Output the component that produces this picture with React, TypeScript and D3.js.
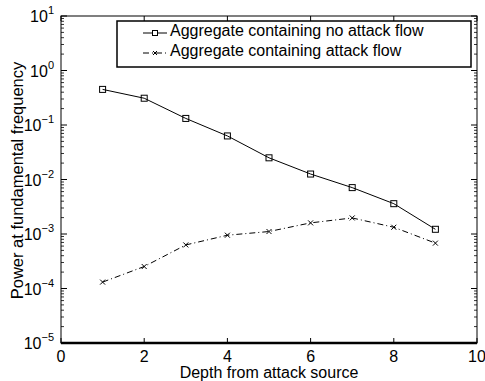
import React, { useRef, useEffect } from 'react';
import * as d3 from 'd3';

const depths = [1, 2, 3, 4, 5, 6, 7, 8, 9];
const noAttack = [0.45, 0.31, 0.132, 0.063, 0.025, 0.0126, 0.0071, 0.0036, 0.00122];
const withAttack = [0.000131, 0.000253, 0.00063, 0.00095, 0.00111, 0.0016, 0.00197, 0.00133, 0.00068];
const xTicks = [0, 2, 4, 6, 8, 10];
const yExponents = [1, 0, -1, -2, -3, -4, -5];
const legendLabels = ["Aggregate containing no attack flow", "Aggregate containing attack flow"];

export default function App() {
  const ref = useRef<SVGSVGElement>(null);

  useEffect(() => {
    const svg = d3.select(ref.current);
    svg.selectAll("*").remove();

    const width = 485;
    const height = 381;
    const margin = { top: 16, right: 8, bottom: 38, left: 61 };
    const innerWidth = width - margin.left - margin.right;
    const innerHeight = height - margin.top - margin.bottom;
    const font = "'Liberation Sans', Arial, sans-serif";

    const x = d3.scaleLinear().domain([0, 10]).range([0, innerWidth]);
    const y = d3.scaleLog().domain([1e-5, 10]).range([innerHeight, 0]);

    const g = svg.append("g")
      .attr("transform", `translate(${margin.left},${margin.top})`);

    // frame
    g.append("rect")
      .attr("width", innerWidth)
      .attr("height", innerHeight)
      .attr("fill", "none")
      .attr("stroke", "black")
      .attr("stroke-width", 1);
    g.append("line")
      .attr("x1", 0).attr("x2", innerWidth)
      .attr("y1", innerHeight).attr("y2", innerHeight)
      .attr("stroke", "black").attr("stroke-width", 2.5);

    // x ticks (bottom + top, inward)
    xTicks.forEach(t => {
      g.append("line")
        .attr("x1", x(t)).attr("x2", x(t))
        .attr("y1", innerHeight).attr("y2", innerHeight - 5)
        .attr("stroke", "black");
      g.append("line")
        .attr("x1", x(t)).attr("x2", x(t))
        .attr("y1", 0).attr("y2", 5)
        .attr("stroke", "black");
      g.append("text")
        .attr("x", x(t))
        .attr("y", innerHeight + 19)
        .attr("text-anchor", "middle")
        .attr("font-family", font)
        .attr("font-size", 16)
        .text(t);
    });

    // y ticks: majors + minors on both sides
    const minor: number[] = [];
    for (let e = -5; e < 1; e++) {
      for (let m = 2; m <= 9; m++) minor.push(m * Math.pow(10, e));
    }
    minor.forEach(v => {
      g.append("line").attr("x1", 0).attr("x2", 3)
        .attr("y1", y(v)).attr("y2", y(v)).attr("stroke", "black").attr("stroke-width", 0.8);
      g.append("line").attr("x1", innerWidth).attr("x2", innerWidth - 3)
        .attr("y1", y(v)).attr("y2", y(v)).attr("stroke", "black").attr("stroke-width", 0.8);
    });
    yExponents.forEach(e => {
      const v = Math.pow(10, e);
      g.append("line").attr("x1", 0).attr("x2", 6)
        .attr("y1", y(v)).attr("y2", y(v)).attr("stroke", "black");
      g.append("line").attr("x1", innerWidth).attr("x2", innerWidth - 6)
        .attr("y1", y(v)).attr("y2", y(v)).attr("stroke", "black");
      const label = g.append("text")
        .attr("x", -7)
        .attr("y", y(v) + 6)
        .attr("text-anchor", "end")
        .attr("font-family", font)
        .attr("font-size", 16);
      label.append("tspan").text("10");
      label.append("tspan")
        .attr("dy", -8)
        .attr("font-size", 11)
        .text(e < 0 ? "\u2212" + Math.abs(e) : String(e));
    });

    // axis labels
    svg.append("text")
      .attr("x", margin.left + innerWidth / 2)
      .attr("y", height - 3)
      .attr("text-anchor", "middle")
      .attr("font-family", font)
      .attr("font-size", 16)
      .text("Depth from attack source");
    svg.append("text")
      .attr("transform", `translate(23,${margin.top + innerHeight / 2 + 1}) rotate(-90)`)
      .attr("text-anchor", "middle")
      .attr("font-family", font)
      .attr("font-size", 16.5)
      .text("Power at fundamental frequency");

    const line = d3.line<number>()
      .x((_, i) => x(depths[i]))
      .y(d => y(d));

    // series 1: solid with squares
    g.append("path")
      .datum(noAttack)
      .attr("d", line)
      .attr("fill", "none")
      .attr("stroke", "black")
      .attr("stroke-width", 1);
    g.selectAll("rect.sq")
      .data(noAttack)
      .enter()
      .append("rect")
      .attr("class", "sq")
      .attr("x", (_, i) => x(depths[i]) - 3)
      .attr("y", d => y(d) - 3)
      .attr("width", 6)
      .attr("height", 6)
      .attr("fill", "none")
      .attr("stroke", "black");

    // series 2: dash-dot with crosses
    g.append("path")
      .datum(withAttack)
      .attr("d", line)
      .attr("fill", "none")
      .attr("stroke", "black")
      .attr("stroke-width", 1)
      .attr("stroke-dasharray", "6,3,1,3");
    withAttack.forEach((d, i) => {
      const cx = x(depths[i]);
      const cy = y(d);
      g.append("path")
        .attr("d", `M${cx - 2.5},${cy - 2.5}L${cx + 2.5},${cy + 2.5}M${cx - 2.5},${cy + 2.5}L${cx + 2.5},${cy - 2.5}`)
        .attr("stroke", "black")
        .attr("stroke-width", 1);
    });

    // legend
    const legend = svg.append("g").attr("transform", "translate(117,21)");
    legend.append("rect")
      .attr("width", 354)
      .attr("height", 46)
      .attr("fill", "white")
      .attr("stroke", "black")
      .attr("stroke-width", 1.5);
    legendLabels.forEach((lab, i) => {
      const ly = 12 + i * 20;
      const seg = legend.append("line")
        .attr("x1", 26).attr("x2", 50)
        .attr("y1", ly).attr("y2", ly)
        .attr("stroke", "black");
      if (i === 0) {
        legend.append("rect")
          .attr("x", 35.5).attr("y", ly - 2.5)
          .attr("width", 5).attr("height", 5)
          .attr("fill", "white").attr("stroke", "black");
      } else {
        seg.attr("stroke-dasharray", "6,3,1,3");
        legend.append("path")
          .attr("d", `M36,${ly - 2}L40,${ly + 2}M36,${ly + 2}L40,${ly - 2}`)
          .attr("stroke", "black");
      }
      legend.append("text")
        .attr("x", 53)
        .attr("y", ly + 3)
        .attr("font-family", font)
        .attr("font-size", 16)
        .text(lab);
    });
  }, []);

  return (
    <svg
      ref={ref}
      width={485}
      height={381}
      style={{ position: "absolute", left: 0, top: 0, background: "white" }}
    />
  );
}
